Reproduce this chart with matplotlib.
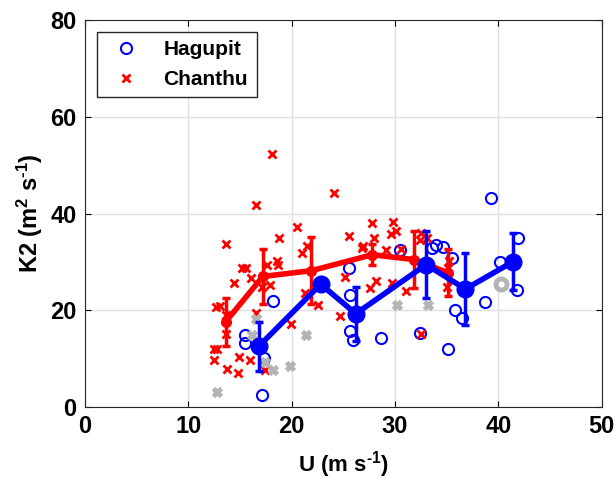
import numpy as np
import matplotlib.pyplot as plt

plt.rcParams['font.family'] = ['Liberation Sans', 'DejaVu Sans']
plt.rcParams['font.weight'] = 'bold'
plt.rcParams['mathtext.fontset'] = 'custom'
plt.rcParams['mathtext.rm'] = 'Liberation Sans:bold'
plt.rcParams['mathtext.bf'] = 'Liberation Sans:bold'
plt.rcParams['mathtext.default'] = 'bf'

# individual estimates, Hagupit (circles)
hag_u = [17.1, 15.5, 15.5, 17.3, 18.2, 25.5, 25.6, 25.6, 25.9, 28.6, 30.5, 32.4,
         33.6, 34.0, 34.6, 35.5, 39.3, 41.9, 40.1, 41.8, 38.7, 35.8, 36.5, 35.1]
hag_k = [2.5, 15.0, 13.3, 10.1, 22.0, 28.8, 23.2, 15.7, 13.9, 14.3, 32.5, 15.4,
         32.8, 33.6, 33.0, 30.8, 43.3, 35.0, 29.9, 24.2, 21.8, 20.1, 18.4, 12.1]

# individual estimates, Chanthu (crosses)
chan_u = [16.5, 13.6, 15.2, 15.6, 14.4, 16.1, 12.7, 13.1, 13.6, 13.6, 12.5, 12.8,
          12.5, 13.7, 14.8, 14.9, 16.0, 17.1, 17.6, 18.1, 20.5, 18.8, 21.5, 21.0,
          18.6, 18.7, 17.9, 21.3, 22.5, 19.9, 16.5, 17.4, 24.1, 25.5, 25.2, 24.7,
          27.8, 28.0, 26.8, 26.9, 29.1, 29.8, 29.6, 30.1, 30.6, 28.2, 27.6, 29.7,
          31.1, 32.5, 32.4, 33.1, 32.5, 35.2, 35.1, 35.0]
chan_k = [41.8, 33.7, 28.7, 28.7, 25.7, 26.6, 20.6, 20.9, 19.0, 15.2, 12.1, 12.1,
          9.7, 7.8, 7.1, 10.4, 9.7, 24.9, 29.4, 52.3, 37.2, 35.0, 33.3, 31.9,
          30.3, 29.4, 25.2, 23.6, 21.1, 17.1, 19.4, 7.7, 44.2, 35.4, 26.8, 18.9,
          38.1, 34.9, 32.8, 33.3, 32.5, 38.3, 35.8, 36.3, 32.7, 26.0, 24.6, 25.6,
          23.9, 35.9, 34.5, 34.9, 15.2, 30.3, 28.7, 24.9]

# excluded points
excl_x_u = [12.8, 16.5, 16.2, 17.4, 18.2, 19.8, 21.4, 30.2, 33.2]
excl_x_k = [3.2, 18.3, 14.9, 9.4, 7.7, 8.5, 15.0, 21.1, 21.0]
excl_o_u = [40.2]
excl_o_k = [25.4]

# bin means and spread
hag_mean_u = [16.8, 22.8, 26.2, 33.0, 36.8, 41.4]
hag_mean_k = [12.55, 25.4, 19.3, 29.45, 24.4, 30.05]
hag_err = [5.05, 0.0, 5.6, 6.95, 7.4, 5.85]

chan_mean_u = [13.6, 17.2, 21.9, 27.8, 31.8, 35.1]
chan_mean_k = [17.6, 27.0, 28.2, 31.5, 30.5, 27.8]
chan_err = [4.9, 5.7, 6.9, 2.2, 5.9, 4.8]

fig = plt.figure(figsize=(6.16, 4.8), dpi=100)
ax = fig.add_axes([0.138, 0.152, 0.839, 0.806])

ax.plot(hag_u, hag_k, 'o', mfc='none', mec='blue', ms=8, mew=1.5, label='Hagupit')
ax.plot(chan_u, chan_k, 'x', color='red', ms=5.5, mew=2, label='Chanthu')
ax.plot(excl_x_u, excl_x_k, 'x', color='#b4b4b4', ms=6, mew=3.5)
ax.plot(excl_o_u, excl_o_k, 'o', mfc='none', mec='#b4b4b4', ms=8, mew=3.5)

ax.errorbar(chan_mean_u, chan_mean_k, yerr=chan_err, color='red', lw=4,
            marker='o', ms=7, elinewidth=2.5, capsize=3, capthick=2.5)
ax.errorbar(hag_mean_u, hag_mean_k, yerr=hag_err, color='blue', lw=4,
            marker='o', ms=12, elinewidth=2.5, capsize=3, capthick=2.5)

ax.set_xlim(0, 50)
ax.set_ylim(0, 80)
ax.set_xticks([0, 10, 20, 30, 40, 50])
ax.set_yticks([0, 20, 40, 60, 80])
ax.grid(True, color='#e0e0e0', lw=1)
ax.set_axisbelow(True)
ax.tick_params(direction='in', length=4, labelsize=17, top=True, right=True, pad=6)
for s in ax.spines.values():
    s.set_color('#262626')

ax.set_xlabel(r'U (m s$^{\text{-1}}$)', fontsize=16, fontweight='bold', labelpad=8)
ax.set_ylabel(r'K2 (m$^{2}$ s$^{\text{-1}}$)', fontsize=17, fontweight='bold', labelpad=4)

leg = ax.legend(loc='upper left', bbox_to_anchor=(0.023, 0.969), borderaxespad=0,
                fancybox=False, edgecolor='#262626', framealpha=1,
                prop={'size': 15, 'weight': 'bold'}, handletextpad=0.8)
leg.get_frame().set_linewidth(1)

fig.savefig('out.png', dpi=100)
